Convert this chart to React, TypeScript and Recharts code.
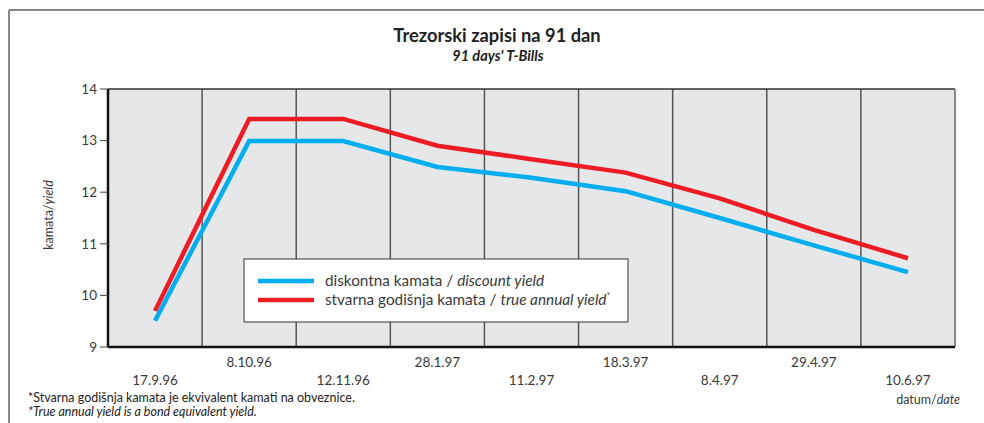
import React from 'react';
import { LineChart, Line, XAxis, YAxis, CartesianGrid, ReferenceLine } from 'recharts';

const categories = ['17.9.96', '8.10.96', '12.11.96', '28.1.97', '11.2.97', '18.3.97', '8.4.97', '29.4.97', '10.6.97'];
const discountYield = [9.51, 12.99, 12.99, 12.49, 12.28, 12.02, 11.5, 10.97, 10.45];
const trueAnnualYield = [9.7, 13.42, 13.42, 12.9, 12.64, 12.38, 11.88, 11.27, 10.72];
const yTicks = [9, 10, 11, 12, 13, 14];

const BLUE = '#00aeef';
const RED = '#ed1c24';
const FONT = 'Lato, "Open Sans", sans-serif';

const data = categories.map((c, i) => ({
  pos: i + 0.5,
  label: c,
  discount: discountYield[i],
  trueYield: trueAnnualYield[i],
}));
const xTickPositions = categories.map((_, i) => i + 0.5);
const boundaries = categories.slice(1).map((_, i) => i + 1);

const XTick = (props: any) => {
  const { x, y, payload, index } = props;
  const label = categories[Math.round(payload.value - 0.5)];
  const dy = index % 2 === 1 ? 20 : 37.5;
  return (
    <text x={x} y={y + dy} textAnchor="middle" fontFamily={FONT} fontSize={13.5} fill="#3a3a3a">
      {label}
    </text>
  );
};

export default function App() {
  return (
    <div style={{ position: 'absolute', left: 0, top: 0, width: 984, height: 423, background: '#fff' }}>
      <div style={{ position: 'absolute', left: 0, top: 0 }}>
        <LineChart width={984} height={423} data={data} margin={{ top: 89, right: 29, bottom: 36, left: 48 }}>
          <CartesianGrid horizontal={false} vertical={false} fill="#e6e7e9" stroke="none" />
          {boundaries.map((b) => (
            <ReferenceLine key={b} x={b} stroke="#555" strokeWidth={1.5} />
          ))}
          <ReferenceLine y={14} stroke="#333" strokeWidth={1.5} />
          <ReferenceLine x={9} stroke="#888" strokeWidth={2} />
          <XAxis
            dataKey="pos"
            type="number"
            domain={[0, 9]}
            ticks={xTickPositions}
            tick={<XTick />}
            tickLine={false}
            tickSize={0}
            tickMargin={0}
            height={40}
            axisLine={{ stroke: '#111', strokeWidth: 2.5 }}
            interval={0}
            allowDataOverflow
          />
          <YAxis
            type="number"
            domain={[9, 14]}
            ticks={yTicks}
            width={60}
            tickSize={8}
            tickMargin={3}
            tickLine={{ stroke: '#444', strokeWidth: 1 }}
            axisLine={{ stroke: '#111', strokeWidth: 2.5 }}
            tick={{ fontFamily: FONT, fontSize: 13.5, fill: '#3a3a3a' }}
            allowDataOverflow
          />
          <Line dataKey="discount" stroke={BLUE} strokeWidth={4.5} dot={false} isAnimationActive={false} type="linear" />
          <Line dataKey="trueYield" stroke={RED} strokeWidth={4.5} dot={false} isAnimationActive={false} type="linear" />
        </LineChart>
      </div>
      <svg width={984} height={423} style={{ position: 'absolute', left: 0, top: 0, pointerEvents: 'none' }}>
        <line x1={9} y1={10} x2={984} y2={10} stroke="#888" strokeWidth={2} />
        <line x1={9} y1={10} x2={9} y2={423} stroke="#888" strokeWidth={2} />
        <text x={497} y={42} textAnchor="middle" fontFamily={FONT} fontWeight="bold" fontSize={18.3} fill="#222">
          Trezorski zapisi na 91 dan
        </text>
        <text x={498} y={61} textAnchor="middle" fontFamily={FONT} fontWeight="bold" fontStyle="italic" fontSize={14.5} fill="#222">
          91 days' T-Bills
        </text>
        <text
          x={0}
          y={0}
          transform="translate(53,215) rotate(-90)"
          textAnchor="middle"
          fontFamily={FONT}
          fontSize={12.5}
          fill="#3a3a3a"
        >
          kamata/<tspan fontStyle="italic">yield</tspan>
        </text>
        <rect x={244} y={259} width={384} height={63} fill="#fff" stroke="#333" strokeWidth={1} />
        <line x1={258} y1={281} x2={314} y2={281} stroke={BLUE} strokeWidth={4.5} />
        <line x1={258} y1={300} x2={314} y2={300} stroke={RED} strokeWidth={4.5} />
        <text x={325} y={286} fontFamily={FONT} fontSize={15.3} fill="#3a3a3a">
          diskontna kamata / <tspan fontStyle="italic">discount yield</tspan>
        </text>
        <text x={325} y={305} fontFamily={FONT} fontSize={15.3} fill="#3a3a3a">
          stvarna godišnja kamata / <tspan fontStyle="italic">true annual yield</tspan>
          <tspan fontSize={9} dy={-6}>*</tspan>
        </text>
        <text x={960} y={404} textAnchor="end" fontFamily={FONT} fontSize={12.5} fill="#3a3a3a">
          datum/<tspan fontStyle="italic">date</tspan>
        </text>
        <text x={28} y={401.5} fontFamily={FONT} fontSize={12.5} fill="#222">
          *Stvarna godišnja kamata je ekvivalent kamati na obveznice.
        </text>
        <text x={28} y={416} fontFamily={FONT} fontSize={12.5} fontStyle="italic" fill="#222">
          *True annual yield is a bond equivalent yield.
        </text>
      </svg>
    </div>
  );
}
